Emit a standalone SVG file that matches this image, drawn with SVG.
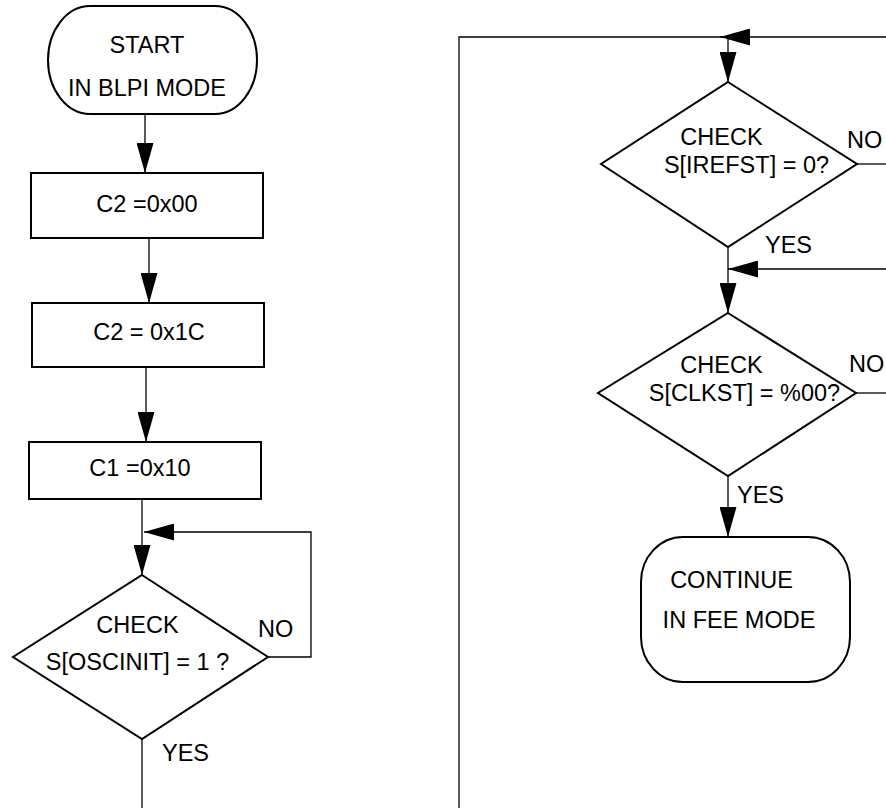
<svg xmlns="http://www.w3.org/2000/svg" width="886" height="808" viewBox="0 0 886 808">
<style>
.node{fill:#fff;stroke:#000;stroke-width:2}
.t{font-family:"Liberation Sans",Arial,sans-serif;font-size:23.5px;fill:#000}
.m{text-anchor:middle}
.c{fill:none;stroke:#000;stroke-width:1.3}
</style>
<defs>
<marker id="ah" markerUnits="userSpaceOnUse" markerWidth="30" markerHeight="17" refX="30" refY="8.5" orient="auto" viewBox="0 0 30 17">
<path d="M0,0 L30,8.5 L0,17 z" fill="#000"/>
</marker>
</defs>
<rect width="886" height="808" fill="#fff"/>
<g id="connectors">
<line class="c" x1="145" y1="114" x2="145" y2="173" marker-end="url(#ah)"/>
<line class="c" x1="149" y1="238" x2="149" y2="303" marker-end="url(#ah)"/>
<line class="c" x1="146" y1="367" x2="146" y2="442" marker-end="url(#ah)"/>
<line class="c" x1="142" y1="499" x2="142" y2="575" marker-end="url(#ah)"/>
<polyline class="c" points="268,657 311,657 311,532 144,532" marker-end="url(#ah)"/>
<line class="c" x1="142" y1="739" x2="142" y2="808"/>
<polyline class="c" points="459,808 459,37 728,37"/>
<line class="c" x1="886" y1="37" x2="720" y2="37" marker-end="url(#ah)"/>
<line class="c" x1="728" y1="37" x2="728" y2="82" marker-end="url(#ah)"/>
<line class="c" x1="857" y1="164" x2="886" y2="164"/>
<line class="c" x1="728" y1="247" x2="728" y2="313" marker-end="url(#ah)"/>
<line class="c" x1="886" y1="269" x2="728" y2="269" marker-end="url(#ah)"/>
<line class="c" x1="856" y1="393" x2="886" y2="393"/>
<line class="c" x1="728" y1="476" x2="728" y2="537" marker-end="url(#ah)"/>
</g>
<g id="start">
<rect class="node" x="48" y="6" width="209" height="108" rx="42" ry="54"/>
<text class="t m" x="147" y="53">START</text>
<text class="t m" x="147" y="96">IN BLPI MODE</text>
</g>
<g id="c2a">
<rect class="node" x="31" y="173" width="232" height="65"/>
<text class="t m" x="147" y="212">C2 =0x00</text>
</g>
<g id="c2b">
<rect class="node" x="32" y="303" width="232" height="64"/>
<text class="t m" x="149" y="340">C2 = 0x1C</text>
</g>
<g id="c1">
<rect class="node" x="29" y="442" width="232" height="57"/>
<text class="t m" x="140" y="476">C1 =0x10</text>
</g>
<g id="chk-osc">
<polygon class="node" points="142,575 268,657 142,739 13,657"/>
<text class="t m" x="137.5" y="633">CHECK</text>
<text class="t m" x="137.5" y="670">S[OSCINIT] = 1 ?</text>
<text class="t" x="258" y="637">NO</text>
<text class="t" x="162" y="761">YES</text>
</g>
<g id="chk-iref">
<polygon class="node" points="728,82 857,164 728,247 601,164"/>
<text class="t m" x="721.5" y="145">CHECK</text>
<text class="t m" x="746.5" y="173">S[IREFST] = 0?</text>
<text class="t" x="847" y="148">NO</text>
<text class="t" x="765" y="253">YES</text>
</g>
<g id="chk-clk">
<polygon class="node" points="728,313 856,393 728,476 598,393"/>
<text class="t m" x="721.5" y="373">CHECK</text>
<text class="t m" x="744.5" y="401">S[CLKST] = %00?</text>
<text class="t" x="849" y="372">NO</text>
<text class="t" x="737" y="503">YES</text>
</g>
<g id="continue">
<rect class="node" x="641" y="537" width="209" height="145" rx="42" ry="45"/>
<text class="t m" x="731.5" y="588">CONTINUE</text>
<text class="t m" x="739" y="628">IN FEE MODE</text>
</g>
</svg>
